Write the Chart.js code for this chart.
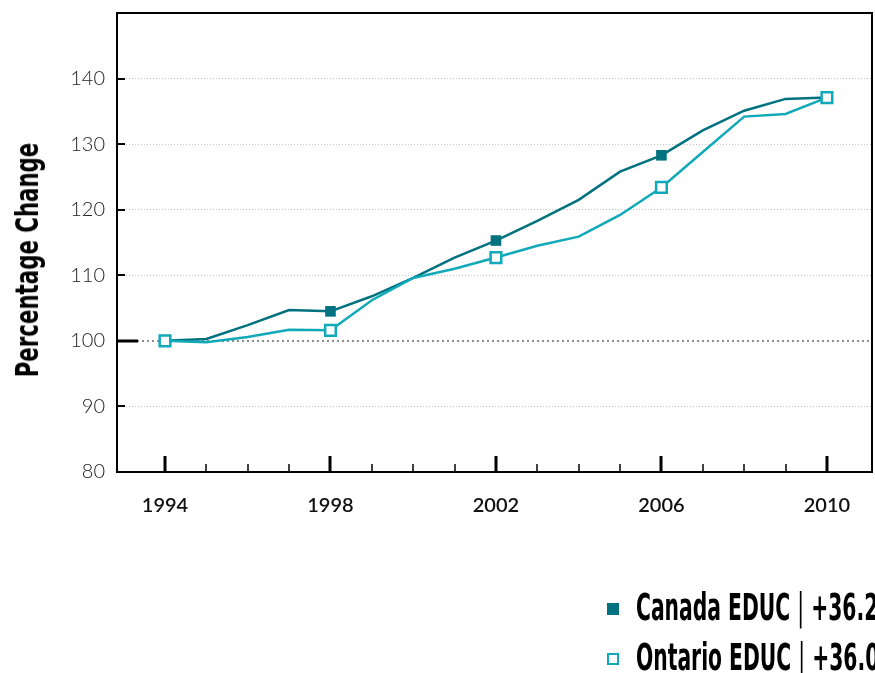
<!DOCTYPE html>
<html>
<head>
<meta charset="utf-8">
<script src="https://cdn.jsdelivr.net/npm/chart.js@4/dist/chart.umd.min.js"></script>
<style>
  html, body { margin: 0; padding: 0; background: #fff; overflow: hidden; }
  #wrap { position: relative; width: 875px; height: 673px; overflow: hidden; }
  #yTitle {
    position: absolute; left: 27px; top: 260px;
    transform: translate(-50%, -50%) rotate(-90deg) scaleX(0.74);
    font: bold 32px "Liberation Sans Narrow", "DejaVu Sans Condensed", sans-serif;
    white-space: nowrap; color: #000;
  }
  .legText {
    position: absolute; left: 636px; white-space: nowrap;
    font: bold 37px "Liberation Sans Narrow", "DejaVu Sans Condensed", sans-serif;
    color: #000; transform-origin: left center; transform: scaleX(0.61);
  }
  .legText .sep { font-weight: normal; }
  .legBox { position: absolute; left: 607px; width: 12px; height: 12px; box-sizing: border-box; }
</style>
</head>
<body>
<div id="wrap">
  <canvas id="chart" width="875" height="673"></canvas>
  <div id="yTitle">Percentage Change</div>
  <div class="legBox" style="top:603px;background:#00717f"></div>
  <div class="legText" style="top:586px">Canada EDUC <span class="sep">|</span> +36.2%</div>
  <div class="legBox" style="top:653px;border:2px solid #10a9b9;background:#fff"></div>
  <div class="legText" style="top:636px">Ontario EDUC <span class="sep">|</span> +36.0%</div>
</div>
<script>
// data (1994 = 100)
const years = [1994, 1995, 1996, 1997, 1998, 1999, 2000, 2001, 2002, 2003, 2004, 2005, 2006, 2007, 2008, 2009, 2010];
const canada = [100, 100.3, 102.4, 104.7, 104.5, 106.8, 109.6, 112.7, 115.3, 118.3, 121.5, 125.8, 128.3, 132.1, 135.1, 136.9, 137.1];
const ontario = [100, 99.8, 100.6, 101.7, 101.6, 106.2, 109.6, 111.0, 112.7, 114.5, 115.9, 119.2, 123.4, 128.8, 134.2, 134.6, 137.1];
const markerYears = [1994, 1998, 2002, 2006, 2010];
const yTicks = [80, 90, 100, 110, 120, 130, 140];

const canadaColor = '#00717f';
const ontarioColor = '#10a9b9';

const toPoints = vals => vals.map((v, i) => ({ x: years[i], y: v }));
const markerRadius = ctx => markerYears.includes(years[ctx.dataIndex]) ? 7.5 : 0;
const tickVal = ctx => ctx.tick ? ctx.tick.value : null;

// frame + inside tick marks
const framePlugin = {
  id: 'frame',
  afterDatasetsDraw(chart) {
    const { ctx, chartArea: a, scales } = chart;
    ctx.save();
    ctx.strokeStyle = '#000';
    // x ticks, pointing up into the plot
    years.forEach(yr => {
      const px = Math.round(scales.x.getPixelForValue(yr));
      const major = markerYears.includes(yr);
      ctx.lineWidth = major ? 3 : 1.5;
      ctx.beginPath();
      ctx.moveTo(px, a.bottom);
      ctx.lineTo(px, a.bottom - (major ? 16 : 8));
      ctx.stroke();
    });
    // y ticks, pointing right into the plot
    yTicks.slice(1).forEach(v => {
      const py = Math.round(scales.y.getPixelForValue(v));
      const base = v === 100;
      ctx.lineWidth = base ? 3 : 2;
      ctx.beginPath();
      ctx.moveTo(a.left, py);
      ctx.lineTo(a.left + (base ? 21 : 8), py);
      ctx.stroke();
    });
    ctx.lineWidth = 2;
    ctx.strokeRect(a.left, a.top, a.right - a.left, a.bottom - a.top);
    ctx.restore();
  }
};

new Chart(document.getElementById('chart'), {
  type: 'line',
  data: {
    datasets: [
      {
        label: 'Ontario EDUC',
        data: toPoints(ontario),
        borderColor: ontarioColor,
        borderWidth: 2.5,
        pointStyle: 'rect',
        pointRadius: markerRadius,
        pointBackgroundColor: '#fff',
        pointBorderColor: ontarioColor,
        pointBorderWidth: 2.5,
        tension: 0,
        order: 0
      },
      {
        label: 'Canada EDUC',
        data: toPoints(canada),
        borderColor: canadaColor,
        borderWidth: 2.5,
        pointStyle: 'rect',
        pointRadius: markerRadius,
        pointBackgroundColor: canadaColor,
        pointBorderColor: canadaColor,
        pointBorderWidth: 0,
        tension: 0,
        order: 1
      }
    ]
  },
  options: {
    responsive: false,
    animation: false,
    events: [],
    layout: { autoPadding: false, padding: { top: 13, right: 3 } },
    plugins: { legend: { display: false }, tooltip: { enabled: false } },
    scales: {
      x: {
        type: 'linear',
        min: 1992.84,
        max: 2011.09,
        afterBuildTicks: scale => { scale.ticks = markerYears.map(v => ({ value: v })); },
        afterFit: scale => { scale.height = 201; scale.paddingLeft = 0; scale.paddingRight = 0; },
        // invisible outside ticks just to push the labels down
        grid: { drawOnChartArea: false, drawTicks: true, tickLength: 22, tickColor: 'rgba(0,0,0,0)', color: 'rgba(0,0,0,0)' },
        border: { display: false },
        ticks: {
          padding: 0,
          color: '#111',
          font: { family: 'Lato', size: 20, weight: '600' },
          callback: v => String(v)
        }
      },
      y: {
        min: 80,
        max: 150,
        afterBuildTicks: scale => { scale.ticks = yTicks.map(v => ({ value: v })); },
        afterFit: scale => { scale.width = 117; scale.paddingTop = 0; scale.paddingBottom = 0; },
        border: {
          display: false,
          dash: ctx => tickVal(ctx) === 100 ? [2, 3] : [1, 2]
        },
        grid: {
          drawTicks: true,
          tickLength: 12,
          tickColor: 'rgba(0,0,0,0)',
          color: ctx => tickVal(ctx) === 100 ? '#8c8c8c' : (tickVal(ctx) === 80 ? 'rgba(0,0,0,0)' : '#c4c4c4'),
          lineWidth: ctx => tickVal(ctx) === 100 ? 2 : 1
        },
        ticks: {
          padding: 0,
          color: '#222',
          font: { family: 'Lato', size: 20, weight: '300' }
        }
      }
    }
  },
  plugins: [framePlugin]
});
</script>
</body>
</html>
